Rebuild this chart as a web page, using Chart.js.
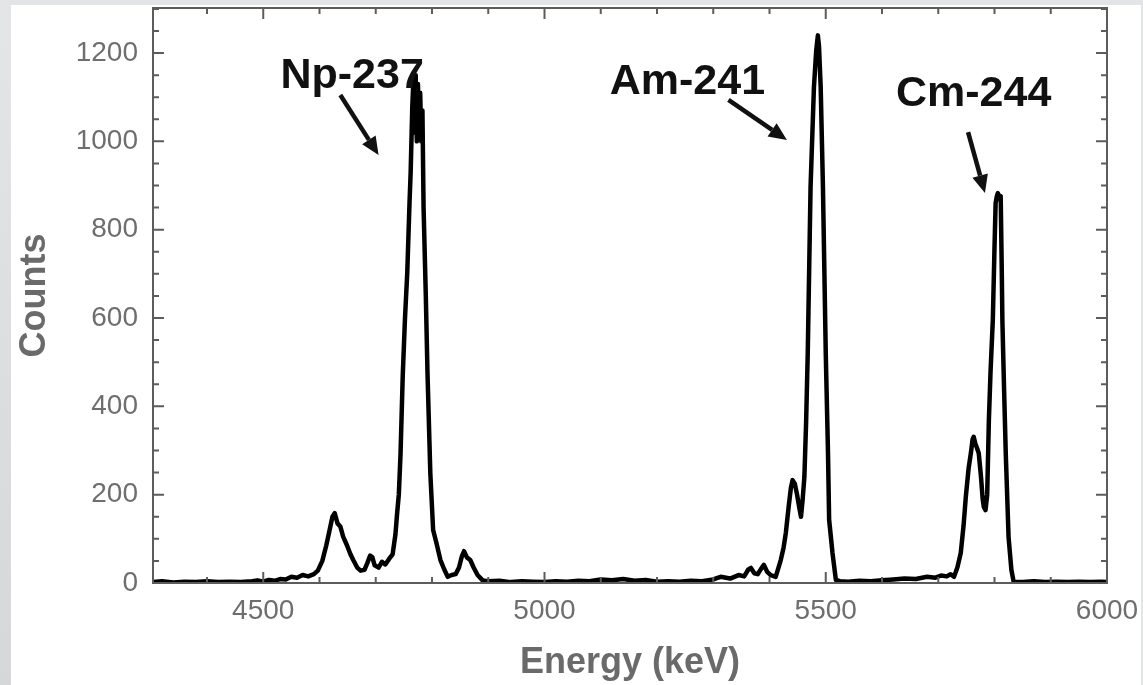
<!DOCTYPE html>
<html>
<head>
<meta charset="utf-8">
<script src="https://cdn.jsdelivr.net/npm/chart.js@4.4.1/dist/chart.umd.min.js"></script>
<style>
  html, body { margin: 0; padding: 0; background: #e2e4e6; width: 1143px; height: 685px; overflow: hidden; }
  #panel { position: absolute; left: 11px; top: 5px; width: 1130px; height: 680px; background: #ffffff; }
  #left { position: absolute; left: 0; top: 0; width: 11px; height: 685px; background: linear-gradient(#e3e5e7, #d6d7d9); }
  #c { position: absolute; left: 0; top: 0; }
</style>
</head>
<body>
<div id="left"></div>
<div id="panel"></div>
<canvas id="c" width="1143" height="685"></canvas>
<script>
// ---- Data (energy in keV, counts) ----
const energy = [
  4304, 4320, 4340, 4360, 4380, 4400, 4420, 4440, 4460, 4480, 4490, 4500, 4510, 4520, 4530, 4540, 4550, 4560, 4570, 4580,
  4590, 4597, 4605, 4612, 4618, 4623, 4627, 4632, 4637, 4642, 4649, 4655, 4660, 4667, 4673, 4680, 4685, 4690, 4694, 4698,
  4705, 4711, 4717, 4724, 4730, 4735, 4738, 4741, 4744, 4748, 4752, 4756, 4760, 4762, 4765, 4767, 4769, 4771, 4773, 4775,
  4777, 4779, 4781, 4783, 4785, 4789, 4792, 4797, 4802, 4808, 4815, 4822, 4828, 4835, 4842, 4848, 4853, 4857, 4862, 4868,
  4874, 4881, 4890, 4900, 4920, 4940, 4960, 4980, 5000, 5020, 5040, 5060, 5080, 5100, 5120, 5140, 5160, 5180, 5200, 5220,
  5240, 5260, 5280, 5300, 5313, 5330, 5345, 5355, 5362, 5367, 5373, 5379, 5385, 5390, 5396, 5402, 5411, 5416, 5420, 5425,
  5429, 5434, 5438, 5441, 5445, 5449, 5453, 5456, 5459, 5462, 5465, 5468, 5473, 5479, 5483, 5486, 5488, 5491, 5495, 5500,
  5504, 5506, 5512, 5518, 5525, 5540, 5560, 5580, 5600, 5620, 5640, 5660, 5680, 5695, 5705, 5715, 5722, 5728, 5734, 5740,
  5745, 5749, 5754, 5758, 5761, 5763, 5766, 5769, 5772, 5776, 5779, 5781, 5784, 5787, 5790, 5793, 5797, 5800, 5802, 5804,
  5806, 5808, 5811, 5813, 5814, 5817, 5820, 5823, 5825, 5830, 5834, 5850, 5870, 5890, 5910, 5930, 5950, 5970, 5990, 6000
];
const counts = [
  2, 4, 1, 3, 2, 4, 2, 3, 2, 4, 6, 3, 7, 5, 9, 8, 14, 12, 18, 15,
  20, 28, 50, 85, 120, 150, 158, 135, 128, 105, 85, 65, 52, 35, 28, 30, 45, 62, 58, 40,
  35, 48, 42, 55, 65, 110, 158, 200, 290, 470, 600, 702, 860, 928, 1080, 1140, 1020, 1150, 1000, 1130,
  1040, 1110, 1000, 1070, 851, 650, 475, 249, 120, 90, 52, 30, 14, 18, 20, 35, 60, 72, 58, 52,
  35, 18, 6, 4, 5, 2, 4, 3, 2, 4, 3, 5, 4, 8, 6, 9, 5, 7, 3, 4,
  3, 5, 4, 8, 14, 10, 18, 15, 30, 34, 22, 20, 32, 41, 25, 18, 14, 35, 52, 80,
  113, 172, 215, 233, 225, 200, 170, 150, 190, 240, 360, 521, 897, 1123, 1205, 1240, 1215, 1123, 897, 521,
  294, 143, 68, 7, 4, 3, 5, 4, 6, 8, 10, 9, 14, 12, 17, 15, 20, 14, 35, 68,
  130, 195, 260, 294, 325, 331, 315, 305, 294, 240, 190, 172, 165, 200, 369, 480, 595, 760, 860, 875,
  883, 870, 876, 700, 595, 440, 294, 180, 104, 30, 3, 2, 4, 2, 3, 2, 3, 2, 3, 2
];

// ---- Axis ticks ----
const xRange = [4304, 6000];
const yRange = [0, 1302];
const xMajorTicks = [4500, 5000, 5500, 6000];
const xMinorTicks = [4400, 4600, 4700, 4800, 4900, 5100, 5200, 5300, 5400, 5600, 5700, 5800, 5900];
const yMajorTicks = [0, 200, 400, 600, 800, 1000, 1200];
const yMinorTicks = [50, 100, 150, 250, 300, 350, 450, 500, 550, 650, 700, 750, 850, 900, 950, 1050, 1100, 1150, 1250, 1300];

// ---- Annotations (data coordinates) ----
const labelTexts = ['Np-237', 'Am-241', 'Cm-244'];
const labelAnchors = [[4658, 1121], [5254, 1107], [5763, 1080]];
const arrowFrom = [[4637, 1105], [5327, 1094], [5753, 1021]];
const arrowTo = [[4705, 969], [5431, 1003], [5783, 883]];

const FONT = "'Liberation Sans', Arial, sans-serif";

const frameTicks = {
  id: 'frameTicks',
  afterDatasetsDraw(chart) {
    const { ctx, chartArea: a, scales: { x, y } } = chart;
    ctx.save();
    ctx.strokeStyle = '#5c5c5c';
    ctx.lineWidth = 2;
    ctx.strokeRect(a.left, a.top, a.right - a.left, a.bottom - a.top);
    ctx.beginPath();
    const hx = (v, len) => {
      const px = x.getPixelForValue(v);
      ctx.moveTo(px, a.bottom); ctx.lineTo(px, a.bottom - len);
      ctx.moveTo(px, a.top); ctx.lineTo(px, a.top + len);
    };
    const vy = (v, len) => {
      const py = y.getPixelForValue(v);
      ctx.moveTo(a.left, py); ctx.lineTo(a.left + len, py);
      ctx.moveTo(a.right, py); ctx.lineTo(a.right - len, py);
    };
    xMajorTicks.forEach(v => hx(v, 11));
    xMinorTicks.forEach(v => hx(v, 6));
    yMajorTicks.forEach(v => vy(v, 11));
    yMinorTicks.forEach(v => vy(v, 6));
    ctx.stroke();
    ctx.restore();
  },
  afterDraw(chart) {
    const { ctx, scales: { x, y } } = chart;
    ctx.save();
    ctx.fillStyle = '#111';
    ctx.strokeStyle = '#111';
    ctx.font = "bold 43px " + FONT;
    ctx.textAlign = 'center';
    ctx.textBaseline = 'alphabetic';
    labelTexts.forEach((t, i) => {
      ctx.fillText(t, x.getPixelForValue(labelAnchors[i][0]), y.getPixelForValue(labelAnchors[i][1]));
    });
    arrowFrom.forEach((f, i) => {
      const x1 = x.getPixelForValue(f[0]), y1 = y.getPixelForValue(f[1]);
      const x2 = x.getPixelForValue(arrowTo[i][0]), y2 = y.getPixelForValue(arrowTo[i][1]);
      const ang = Math.atan2(y2 - y1, x2 - x1);
      const hl = 18, hw = 8;
      const bx = x2 - hl * Math.cos(ang), by = y2 - hl * Math.sin(ang);
      ctx.lineWidth = 4.5;
      ctx.beginPath(); ctx.moveTo(x1, y1); ctx.lineTo(bx, by); ctx.stroke();
      ctx.beginPath();
      ctx.moveTo(x2, y2);
      ctx.lineTo(bx + hw * Math.sin(ang), by - hw * Math.cos(ang));
      ctx.lineTo(bx - hw * Math.sin(ang), by + hw * Math.cos(ang));
      ctx.closePath(); ctx.fill();
    });
    ctx.restore();
  }
};

new Chart(document.getElementById('c'), {
  type: 'line',
  data: {
    datasets: [{
      data: energy.map((e, i) => ({ x: e, y: counts[i] })),
      borderColor: '#000',
      borderWidth: 4.5,
      borderJoinStyle: 'round',
      borderCapStyle: 'round',
      pointRadius: 0,
      tension: 0,
      fill: false
    }]
  },
  options: {
    responsive: false,
    animation: false,
    devicePixelRatio: 1,
    layout: { padding: { left: 0, right: 36, top: 8, bottom: 0 } },
    plugins: { legend: { display: false }, tooltip: { enabled: false } },
    scales: {
      x: {
        type: 'linear',
        min: xRange[0], max: xRange[1],
        grid: { display: false, drawTicks: false },
        border: { display: false },
        afterBuildTicks: s => { s.ticks = xMajorTicks.map(v => ({ value: v })); },
        afterFit: s => { s.height = 102; s.paddingLeft = 0; s.paddingRight = 0; },
        ticks: { color: '#6e6e6e', padding: 11, maxRotation: 0, font: { family: FONT, size: 28 }, callback: v => String(v) },
        title: { display: true, text: 'Energy (keV)', color: '#6a6a6a', font: { family: FONT, size: 36, weight: 'bold' }, padding: { top: 0, bottom: 0 } }
      },
      y: {
        type: 'linear',
        min: yRange[0], max: yRange[1],
        grid: { display: false, drawTicks: false },
        border: { display: false },
        afterBuildTicks: s => { s.ticks = yMajorTicks.map(v => ({ value: v })); },
        afterFit: s => { s.width = 153; s.paddingTop = 0; s.paddingBottom = 0; },
        ticks: { color: '#6e6e6e', padding: 15, font: { family: FONT, size: 28 }, callback: v => String(v) },
        title: { display: true, text: 'Counts', color: '#6a6a6a', font: { family: FONT, size: 36, weight: 'bold' }, padding: { top: 13, bottom: 0 } }
      }
    }
  },
  plugins: [frameTicks]
});
</script>
</body>
</html>
